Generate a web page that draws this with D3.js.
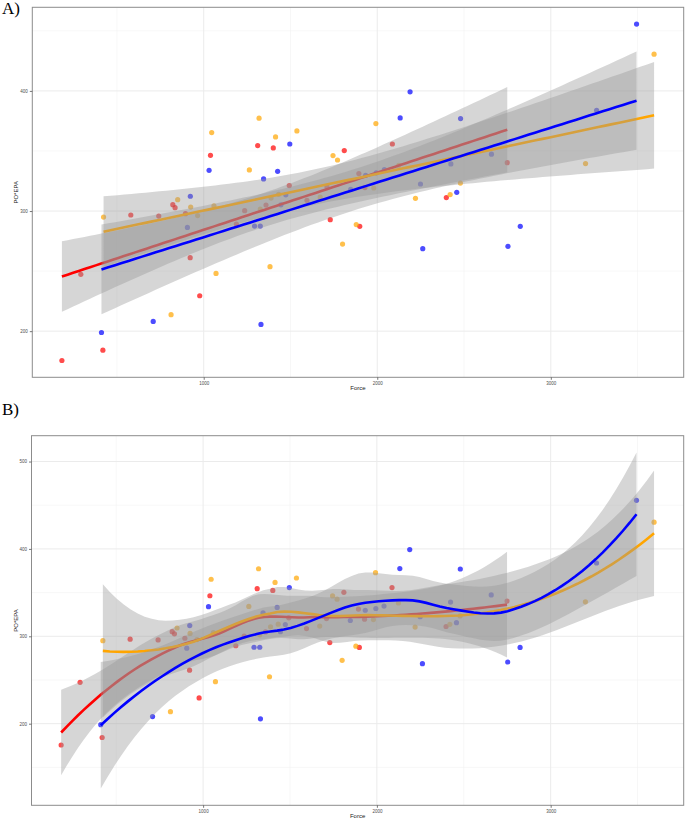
<!DOCTYPE html>
<html><head><meta charset="utf-8">
<script src="https://cdn.jsdelivr.net/npm/d3@7"></script>
<style>body{margin:0;background:#fff}svg{display:block}</style>
</head><body>
<script>
// ---- data (Force vs PO*EPA, three groups) ----
const groupNames = ["red", "orange", "blue"];
const redForce  = [183, 419, 292, 580, 741, 822, 835, 895, 922, 977, 1039, 1188, 1236, 1311, 1359, 1401, 1493, 1595, 1710, 1729, 1810, 1899, 1894, 1929, 2087, 2398, 2749];
const redValue  = [175.6, 184.2, 247.3, 296.7, 295.8, 305.3, 302.8, 297.8, 261.2, 229.5, 346.4, 289.2, 300.3, 354.5, 305.0, 352.5, 321.2, 308.9, 320.3, 292.8, 350.3, 287.3, 331.2, 319.5, 355.8, 311.2, 340.3];
const orangeForce = [423, 812, 850, 925, 965, 1046, 1059, 1071, 1263, 1319, 1326, 1382, 1388, 1414, 1432, 1537, 1671, 1745, 1771, 1800, 1879, 1980, 1992, 2124, 2220, 2420, 2479, 3200, 3595];
const orangeValue = [295.0, 213.7, 309.5, 303.3, 296.2, 365.3, 304.3, 248.1, 334.2, 377.3, 301.7, 253.7, 310.8, 361.7, 313.9, 366.7, 311.7, 346.2, 342.5, 272.5, 288.7, 319.2, 372.8, 338.1, 310.6, 313.7, 323.3, 339.5, 430.6];
const blueForce = [411, 709, 906, 923, 1031, 1293, 1326, 1330, 1345, 1426, 1445, 1473, 1496, 1847, 1933, 1994, 2041, 2132, 2189, 2249, 2262, 2424, 2458, 2480, 2658, 2753, 2824, 3264, 3494];
const blueValue = [198.9, 208.1, 286.4, 312.3, 333.9, 287.5, 287.5, 205.6, 326.7, 333.1, 305.2, 313.5, 355.8, 318.1, 329.8, 331.8, 334.6, 377.5, 399.2, 322.5, 268.7, 339.2, 315.6, 377.0, 347.3, 270.6, 287.3, 383.9, 455.6];
const xMajorTicks = [1000, 2000, 3000];
const xMinorTicks = [500, 1500, 2500, 3500];
const yMajorTicksA = [200, 300, 400];
const yMinorTicksA = [250, 350, 450];
const yMajorTicksB = [200, 300, 400, 500];
const yMinorTicksB = [150, 250, 350, 450];
const panelLabels = ["A)", "B)"];
const xTitle = "Force";
const yTitle = "PO*EPA";

const colors = {red: "#ff0000", orange: "#ffa500", blue: "#0000ff"};
const seriesX = {red: redForce, orange: orangeForce, blue: blueForce};
const seriesY = {red: redValue, orange: orangeValue, blue: blueValue};

// ---- statistics ----
function qt975(df) {
  const z = 1.959963985;
  const g1 = (z**3 + z) / 4;
  const g2 = (5*z**5 + 16*z**3 + 3*z) / 96;
  const g3 = (3*z**7 + 19*z**5 + 17*z**3 - 15*z) / 384;
  const g4 = (79*z**9 + 776*z**7 + 1482*z**5 - 1920*z**3 - 945*z) / 92160;
  return z + g1/df + g2/df**2 + g3/df**3 + g4/df**4;
}
function grid(xs, n = 80) {
  const lo = d3.min(xs), hi = d3.max(xs);
  return d3.range(n).map(i => lo + (hi - lo) * i / (n - 1));
}
function lmSmooth(xs, ys) {
  const n = xs.length, mx = d3.mean(xs), my = d3.mean(ys);
  let sxx = 0, sxy = 0;
  for (let i = 0; i < n; i++) { sxx += (xs[i]-mx)**2; sxy += (xs[i]-mx)*(ys[i]-my); }
  const b = sxy / sxx, a = my - b * mx;
  let rss = 0;
  for (let i = 0; i < n; i++) rss += (ys[i] - a - b*xs[i])**2;
  const s = Math.sqrt(rss / (n - 2)), t = qt975(n - 2);
  return grid(xs).map(x => {
    const f = a + b*x, se = s * Math.sqrt(1/n + (x-mx)**2/sxx);
    return {x, y: f, lo: f - t*se, hi: f + t*se};
  });
}
function inv3(m) {
  const [a,b,c] = m[0], [d,e,f] = m[1], [g,h,k] = m[2];
  const A = e*k - f*h, B = -(d*k - f*g), C = d*h - e*g;
  const det = a*A + b*B + c*C;
  return [
    [A/det, -(b*k - c*h)/det, (b*f - c*e)/det],
    [B/det, (a*k - c*g)/det, -(a*f - c*d)/det],
    [C/det, -(a*h - b*g)/det, (a*e - b*d)/det]
  ];
}
// local quadratic fit operator rows (value and slope) at t
function localRows(xs, t, span) {
  const n = xs.length, q = Math.floor(n * span);
  const dist = xs.map(x => Math.abs(x - t));
  const h = d3.sort(dist)[q - 1] * Math.max(1, span);
  const w = dist.map(d => d < h ? (1 - (d/h)**3)**3 : 0);
  const M = [[0,0,0],[0,0,0],[0,0,0]];
  const vs = xs.map(x => { const u = (x - t) / h; return [1, u, u*u]; });
  for (let i = 0; i < n; i++) for (let r = 0; r < 3; r++) for (let c = 0; c < 3; c++) M[r][c] += w[i]*vs[i][r]*vs[i][c];
  const Mi = inv3(M);
  return {
    val: vs.map((v, i) => w[i] * (Mi[0][0]*v[0] + Mi[0][1]*v[1] + Mi[0][2]*v[2])),
    slope: vs.map((v, i) => w[i] * (Mi[1][0]*v[0] + Mi[1][1]*v[1] + Mi[1][2]*v[2]) / h)
  };
}
// kd-tree cells + cubic Hermite interpolation, as in R's loess surface="interpolate"
function loessSmooth(xs, ys, span = 0.75) {
  const n = xs.length;
  const sx = d3.sort(xs);
  const fc = Math.floor(n * span * 0.2);
  const mu = 0.005 * (sx[n-1] - sx[0]);
  const cells = [];
  (function build(l, u, a, b) {
    if (u - l + 1 <= fc) { cells.push([a, b]); return; }
    const m = Math.floor((l + u) / 2);
    const xi = sx[m - 1];
    if (xi === a || xi === b) { cells.push([a, b]); return; }
    build(l, m, a, xi); build(m + 1, u, xi, b);
  })(1, n, sx[0] - mu, sx[n-1] + mu);
  const cache = new Map();
  const vrow = v => { if (!cache.has(v)) cache.set(v, localRows(xs, v, span)); return cache.get(v); };
  function row(z) {
    let c = cells.find(c => z >= c[0] && z <= c[1]) || cells[cells.length - 1];
    const [a, b] = c, A = vrow(a), B = vrow(b), hh = b - a, u = (z - a) / hh;
    const p0 = (1-u)*(1-u)*(1+2*u), p1 = u*u*(3-2*u), s0 = u*(1-u)*(1-u), s1 = -u*u*(1-u);
    return A.val.map((_, j) => p0*A.val[j] + p1*B.val[j] + hh*(s0*A.slope[j] + s1*B.slope[j]));
  }
  const L = xs.map(x => row(x));
  const IL = L.map((r, i) => r.map((v, j) => (i === j ? 1 : 0) - v));
  const R = [];
  for (let i = 0; i < n; i++) { R.push([]); for (let j = 0; j < n; j++) { let s = 0; for (let k = 0; k < n; k++) s += IL[k][i]*IL[k][j]; R[i].push(s); } }
  let d1 = 0, d2 = 0;
  for (let i = 0; i < n; i++) { d1 += R[i][i]; for (let j = 0; j < n; j++) d2 += R[i][j]*R[j][i]; }
  let rss = 0;
  for (let i = 0; i < n; i++) { const f = d3.sum(L[i], (v, j) => v*ys[j]); rss += (ys[i]-f)**2; }
  const s = Math.sqrt(rss / d1), t = qt975(d1*d1/d2);
  return grid(xs).map(x => {
    const l = row(x);
    const f = d3.sum(l, (v, j) => v*ys[j]);
    const se = s * Math.sqrt(d3.sum(l, v => v*v));
    return {x, y: f, lo: f - t*se, hi: f + t*se};
  });
}

// ---- drawing ----
const W = 685, H = 820;
const svg = d3.select("body").append("svg").attr("width", W).attr("height", H)
  .style("font-family", "'Liberation Sans', Arial, sans-serif");

const allX = [].concat(redForce, orangeForce, blueForce);
const allY = [].concat(redValue, orangeValue, blueValue);
function expand(lo, hi) { const d = (hi - lo) * 0.05; return [lo - d, hi + d]; }

function panel(cfg) {
  const {left, right, top, bottom, fits, yMajor, yMinor, label, labelY} = cfg;
  const fitVals = groupNames.flatMap(g => fits[g].flatMap(p => [p.lo, p.hi]));
  const x = d3.scaleLinear().domain(expand(d3.min(allX), d3.max(allX))).range([left, right]);
  const yLo = Math.min(d3.min(allY), d3.min(fitVals)), yHi = Math.max(d3.max(allY), d3.max(fitVals));
  const y = d3.scaleLinear().domain(expand(yLo, yHi)).range([bottom, top]);
  const g = svg.append("g");
  const clipId = "clip" + label[0];
  svg.append("clipPath").attr("id", clipId).append("rect")
    .attr("x", left).attr("y", top).attr("width", right - left).attr("height", bottom - top);
  // grid
  const gg = g.append("g");
  gg.selectAll(".vminor").data(xMinorTicks.filter(v => x(v) < right)).join("line")
    .attr("x1", d => x(d)).attr("x2", d => x(d)).attr("y1", top).attr("y2", bottom)
    .attr("stroke", "#f2f2f2").attr("stroke-width", 0.6);
  gg.selectAll(".hminor").data(yMinor.filter(v => y(v) > top && y(v) < bottom)).join("line")
    .attr("y1", d => y(d)).attr("y2", d => y(d)).attr("x1", left).attr("x2", right)
    .attr("stroke", "#f2f2f2").attr("stroke-width", 0.6);
  gg.selectAll(".vmajor").data(xMajorTicks).join("line")
    .attr("x1", d => x(d)).attr("x2", d => x(d)).attr("y1", top).attr("y2", bottom)
    .attr("stroke", "#ebebeb").attr("stroke-width", 1);
  gg.selectAll(".hmajor").data(yMajor).join("line")
    .attr("y1", d => y(d)).attr("y2", d => y(d)).attr("x1", left).attr("x2", right)
    .attr("stroke", "#ebebeb").attr("stroke-width", 1);
  // points
  const pg = g.append("g").attr("clip-path", `url(#${clipId})`);
  groupNames.forEach(name => {
    pg.selectAll(null).data(seriesX[name].map((v, i) => [v, seriesY[name][i]])).join("circle")
      .attr("cx", d => x(d[0])).attr("cy", d => y(d[1])).attr("r", 2.6)
      .attr("fill", colors[name]).attr("fill-opacity", 0.7);
  });
  // smooths: ribbon then line per group
  groupNames.forEach(name => {
    const f = fits[name];
    pg.append("path").datum(f)
      .attr("d", d3.area().x(p => x(p.x)).y0(p => y(p.lo)).y1(p => y(p.hi)))
      .attr("fill", "#999999").attr("fill-opacity", 0.4);
    pg.append("path").datum(f)
      .attr("d", d3.line().x(p => x(p.x)).y(p => y(p.y)))
      .attr("fill", "none").attr("stroke", colors[name]).attr("stroke-width", 2.6);
  });
  // border
  g.append("rect").attr("x", left).attr("y", top).attr("width", right - left).attr("height", bottom - top)
    .attr("fill", "none").attr("stroke", "#8c8c8c").attr("stroke-width", 1);
  // axes
  const ax = g.append("g").attr("transform", `translate(0,${bottom})`)
    .call(d3.axisBottom(x).tickValues(xMajorTicks).tickSize(2.5).tickPadding(2).tickFormat(d3.format("d")));
  const ay = g.append("g").attr("transform", `translate(${left},0)`)
    .call(d3.axisLeft(y).tickValues(yMajor).tickSize(2.5).tickPadding(2).tickFormat(d3.format("d")));
  [ax, ay].forEach(a => {
    a.select(".domain").remove();
    a.selectAll("line").attr("stroke", "#555").attr("stroke-width", 0.8);
    a.selectAll("text").attr("fill", "#4d4d4d").style("font-size", "4.5px");
  });
  g.append("text").attr("x", (left + right) / 2).attr("y", bottom + 13)
    .attr("text-anchor", "middle").attr("fill", "#1a1a1a").style("font-size", "6px").text(xTitle);
  g.append("text").attr("transform", `translate(18,${(top + bottom) / 2}) rotate(-90)`)
    .attr("text-anchor", "middle").attr("fill", "#1a1a1a").style("font-size", "6px").text(yTitle);
  g.append("text").attr("x", 2).attr("y", labelY)
    .style("font-family", "'Liberation Serif', 'Times New Roman', serif").style("font-size", "17px").text(label);
}

const lmFits = {}, loFits = {};
groupNames.forEach(n => {
  lmFits[n] = lmSmooth(seriesX[n], seriesY[n]);
  loFits[n] = loessSmooth(seriesX[n], seriesY[n]);
});
panel({left: 32.3, right: 683.7, top: 7.3, bottom: 377.3, fits: lmFits, yMajor: yMajorTicksA, yMinor: yMinorTicksA, label: panelLabels[0], labelY: 14});
panel({left: 31.5, right: 683.7, top: 435.7, bottom: 805.3, fits: loFits, yMajor: yMajorTicksB, yMinor: yMinorTicksB, label: panelLabels[1], labelY: 415});
</script>
</body></html>
